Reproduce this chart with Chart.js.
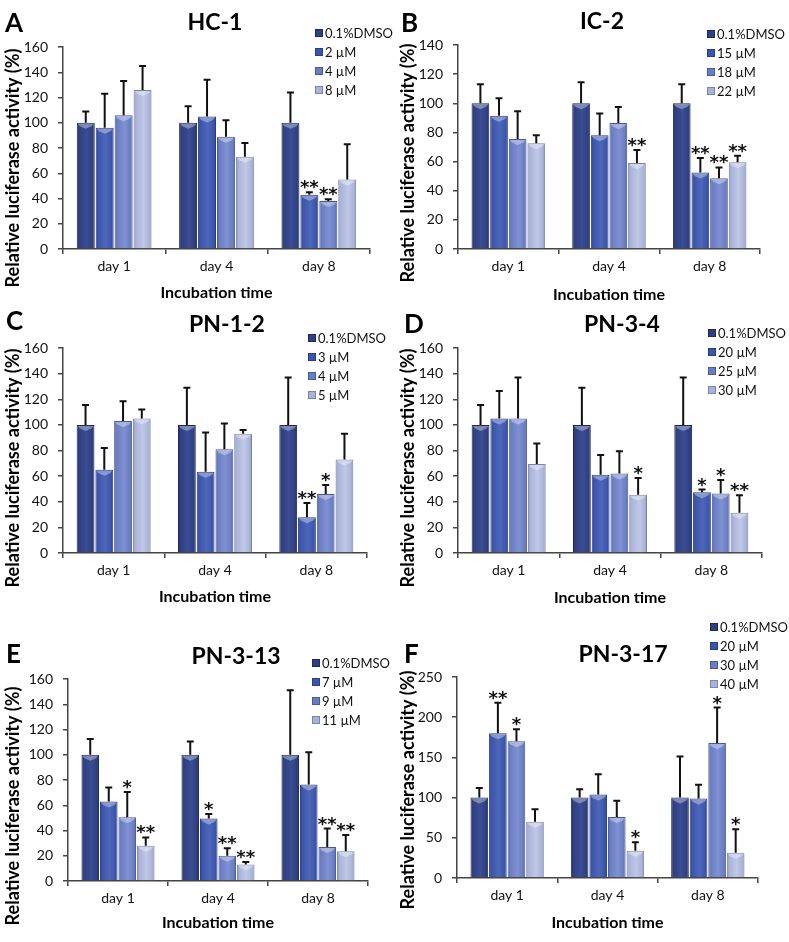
<!DOCTYPE html>
<html>
<head>
<meta charset="utf-8">
<script src="https://cdn.jsdelivr.net/npm/chart.js@4.4.1/dist/chart.umd.min.js"></script>
<style>
  html, body { margin: 0; padding: 0; background: #fff; }
  #wrap { position: relative; width: 789px; height: 942px; overflow: hidden; }
  #wrap canvas { position: absolute; }
</style>
</head>
<body>
<div id="wrap"></div>
<script>
// ---- data (mean %, upper error, significance marks) ----
const days = ['day 1', 'day 4', 'day 8'];

const hc1Doses = ['0.1%DMSO', '2 µM', '4 µM', '8 µM'];
const hc1Mean  = [[100, 100, 100], [96, 105, 43], [106, 89, 38], [126, 73, 55]];
const hc1Err   = [[9, 13, 24], [27, 29, 2], [27, 13, 1.5], [19, 11, 28]];
const hc1Stars = [['', '', ''], ['', '', '**'], ['', '', '**'], ['', '', '']];

const ic2Doses = ['0.1%DMSO', '15 µM', '18 µM', '22 µM'];
const ic2Mean  = [[100, 100, 100], [91.5, 78, 52.5], [75.5, 86.5, 48.5], [72.5, 59, 59.5]];
const ic2Err   = [[13, 14.5, 13], [12, 15, 10], [19, 11, 7.5], [5.5, 9, 4.5]];
const ic2Stars = [['', '', ''], ['', '', '**'], ['', '', '**'], ['', '**', '**']];

const pn12Doses = ['0.1%DMSO', '3 µM', '4 µM', '5 µM'];
const pn12Mean  = [[100, 100, 100], [65, 63.5, 28], [103, 81, 46], [105, 93, 73]];
const pn12Err   = [[15.5, 29, 37], [17, 30.5, 11], [15.5, 20, 7], [7, 3, 20]];
const pn12Stars = [['', '', ''], ['', '', '**'], ['', '', '*'], ['', '', '']];

const pn34Doses = ['0.1%DMSO', '20 µM', '25 µM', '30 µM'];
const pn34Mean  = [[100, 100, 100], [105, 61, 47.5], [105, 62, 46.5], [69.5, 45.5, 31.5]];
const pn34Err   = [[15.5, 29, 37], [21.5, 15.5, 2], [32, 17.5, 10.5], [16, 13, 13.5]];
const pn34Stars = [['', '', ''], ['', '', '*'], ['', '', '*'], ['', '*', '**']];

const pn313Doses = ['0.1%DMSO', '7 µM', '9 µM', '11 µM'];
const pn313Mean  = [[100, 100, 100], [63, 49.5, 76.5], [50.5, 20, 27], [28, 13, 23.5]];
const pn313Err   = [[12.5, 10.5, 51], [11, 3.5, 25.5], [20, 6, 14.5], [6.5, 2, 13]];
const pn313Stars = [['', '', ''], ['', '*', ''], ['*', '**', '**'], ['**', '**', '**']];

const pn317Doses = ['0.1%DMSO', '20 µM', '30 µM', '40 µM'];
const pn317Mean  = [[100, 100, 100], [180, 104, 99], [170, 76, 168], [70, 34, 31.5]];
const pn317Err   = [[12, 10.5, 51], [38, 25, 17], [15, 20, 44], [15.5, 10.5, 29]];
const pn317Stars = [['', '', ''], ['**', '', ''], ['*', '', '*'], ['', '*', '*']];

// ---- look ----
const FONT = 'Lato, "DejaVu Sans", sans-serif';
const barColors   = ['#2f3f80', '#3c55aa', '#6a7dc2', '#a9b3d9'];
const lightColors = ['#3b4d94', '#4d67bb', '#8091d2', '#c0c8e6'];
const edgeColors  = ['#1e2a5c', '#283d85', '#4a5a99', '#7a85ae'];
const axisColor = '#444';
const catPct = 0.74;
Chart.defaults.font.family = FONT;

const panels = [
  { letter: 'A', title: 'HC-1', doses: hc1Doses, means: hc1Mean, errs: hc1Err, stars: hc1Stars,
    yMax: 160, yStep: 20, x: 0, y: 0, w: 394, h: 310,
    area: { l: 63, r: 370, t: 47, b: 249 }, letterX: 5, letterY: 32, titleX: 215, titleY: 23,
    legX: 315, legY: 33, yTitleY: 168, xTitleY: 293 },
  { letter: 'B', title: 'IC-2', doses: ic2Doses, means: ic2Mean, errs: ic2Err, stars: ic2Stars,
    yMax: 140, yStep: 20, x: 395, y: 0, w: 394, h: 310,
    area: { l: 63, r: 365, t: 45, b: 249 }, letterX: 6, letterY: 32, titleX: 207, titleY: 22,
    legX: 312, legY: 34, yTitleY: 163, xTitleY: 295 },
  { letter: 'C', title: 'PN-1-2', doses: pn12Doses, means: pn12Mean, errs: pn12Err, stars: pn12Stars,
    yMax: 160, yStep: 20, x: 0, y: 300, w: 394, h: 315,
    area: { l: 63, r: 367, t: 48, b: 253 }, letterX: 6, letterY: 30, titleX: 227, titleY: 25,
    legX: 308, legY: 38, yTitleY: 168, xTitleY: 297 },
  { letter: 'D', title: 'PN-3-4', doses: pn34Doses, means: pn34Mean, errs: pn34Err, stars: pn34Stars,
    yMax: 160, yStep: 20, x: 395, y: 300, w: 394, h: 315,
    area: { l: 63, r: 367, t: 48, b: 253 }, letterX: 9, letterY: 33, titleX: 227, titleY: 25,
    legX: 313, legY: 33, yTitleY: 168, xTitleY: 298 },
  { letter: 'E', title: 'PN-3-13', doses: pn313Doses, means: pn313Mean, errs: pn313Err, stars: pn313Stars,
    yMax: 160, yStep: 20, x: 0, y: 610, w: 394, h: 332,
    area: { l: 68, r: 368, t: 69, b: 271 }, letterX: 6, letterY: 53, titleX: 236, titleY: 47,
    legX: 312, legY: 53, yTitleY: 196, xTitleY: 313 },
  { letter: 'F', title: 'PN-3-17', doses: pn317Doses, means: pn317Mean, errs: pn317Err, stars: pn317Stars,
    yMax: 250, yStep: 50, x: 395, y: 610, w: 394, h: 332,
    area: { l: 62, r: 363, t: 67, b: 268 }, letterX: 9, letterY: 53, titleX: 228, titleY: 45,
    legX: 315, legY: 17, yTitleY: 180, xTitleY: 313 }
];

// horizontal shading across each bar, placed from the x scale
function barFill(di) {
  return ctx => {
    const chart = ctx.chart;
    const xs = chart.scales.x;
    if (!chart.chartArea || !xs || ctx.type !== 'data') return barColors[di];
    const slot = (xs.width / days.length) * catPct / 4;
    const left = xs.getPixelForValue(ctx.dataIndex) - 2 * slot + di * slot;
    const g = chart.ctx.createLinearGradient(left, 0, left + slot, 0);
    g.addColorStop(0, edgeColors[di]);
    g.addColorStop(0.14, barColors[di]);
    g.addColorStop(0.55, lightColors[di]);
    g.addColorStop(0.86, barColors[di]);
    g.addColorStop(1, edgeColors[di]);
    return g;
  };
}

// error bars, stars, panel letter, title, legend, y title
function decor(p) {
  return {
    id: 'decor',
    afterDatasetsDraw(chart) {
      const ctx = chart.ctx;
      const ys = chart.scales.y;
      ctx.save();
      // light bevel at the top of each bar
      p.means.forEach((series, di) => {
        chart.getDatasetMeta(di).data.forEach(bar => {
          const hw = bar.width / 2 - 1;
          ctx.beginPath();
          ctx.moveTo(bar.x - hw, bar.y + 1);
          ctx.lineTo(bar.x + hw, bar.y + 1);
          ctx.lineTo(bar.x + hw - 2, bar.y + 3.5);
          ctx.lineTo(bar.x, bar.y + 6);
          ctx.lineTo(bar.x - hw + 2, bar.y + 3.5);
          ctx.closePath();
          ctx.fillStyle = 'rgba(255,255,255,0.35)';
          ctx.fill();
        });
      });

      ctx.strokeStyle = '#111';
      ctx.fillStyle = '#111';
      ctx.lineWidth = 2;
      ctx.font = 'bold 18px "DejaVu Sans"';
      ctx.textAlign = 'center';
      const m = ctx.measureText('*');
      p.means.forEach((series, di) => {
        const meta = chart.getDatasetMeta(di);
        meta.data.forEach((bar, i) => {
          const capY = ys.getPixelForValue(series[i] + p.errs[di][i]);
          ctx.beginPath();
          ctx.moveTo(bar.x, bar.y);
          ctx.lineTo(bar.x, capY);
          ctx.moveTo(bar.x - 3.5, capY);
          ctx.lineTo(bar.x + 3.5, capY);
          ctx.stroke();
          const s = p.stars[di][i];
          if (s) ctx.fillText(s, bar.x, capY - 3 - m.actualBoundingBoxDescent);
        });
      });
      ctx.restore();
    },
    afterDraw(chart) {
      const ctx = chart.ctx;
      ctx.save();
      ctx.fillStyle = '#000';
      ctx.textBaseline = 'alphabetic';
      ctx.textAlign = 'left';
      ctx.font = 'bold 26px ' + FONT;
      ctx.fillText(p.letter, p.letterX, p.letterY);

      ctx.textAlign = 'center';
      ctx.textBaseline = 'middle';
      ctx.font = 'bold 23px ' + FONT;
      ctx.fillText(p.title, p.titleX, p.titleY);

      ctx.textAlign = 'left';
      ctx.font = '13px ' + FONT;
      chart.data.datasets.forEach((ds, di) => {
        const ry = p.legY + di * 19;
        ctx.fillStyle = barColors[di];
        ctx.fillRect(p.legX, ry - 4, 8, 8);
        ctx.strokeStyle = edgeColors[di];
        ctx.lineWidth = 1;
        ctx.strokeRect(p.legX + 0.5, ry - 3.5, 7, 7);
        ctx.fillStyle = '#111';
        ctx.fillText(ds.label, p.legX + 10, ry + 1);
      });

      ctx.translate(13, p.yTitleY);
      ctx.rotate(-Math.PI / 2);
      ctx.textAlign = 'center';
      ctx.fillStyle = '#000';
      ctx.font = 'bold 18px ' + FONT;
      ctx.fillText('Relative luciferase activity (%)', 0, 0);
      ctx.restore();
    }
  };
}

const wrap = document.getElementById('wrap');
panels.forEach(p => {
  const canvas = document.createElement('canvas');
  canvas.width = p.w;
  canvas.height = p.h;
  canvas.style.left = p.x + 'px';
  canvas.style.top = p.y + 'px';
  wrap.appendChild(canvas);

  const datasets = p.doses.map((d, di) => ({
    label: d,
    data: p.means[di],
    backgroundColor: barFill(di),
    borderColor: edgeColors[di],
    borderWidth: 1,
    categoryPercentage: catPct,
    barPercentage: 0.95
  }));

  new Chart(canvas, {
    type: 'bar',
    data: { labels: days, datasets: datasets },
    options: {
      responsive: false,
      animation: false,
      devicePixelRatio: 1,
      layout: { padding: { top: p.area.t, right: p.w - p.area.r, left: 0, bottom: 0 } },
      plugins: { legend: { display: false }, tooltip: { enabled: false } },
      scales: {
        x: {
          grid: { display: true, drawOnChartArea: false, drawTicks: true, tickLength: 5,
                  color: axisColor, lineWidth: 1.5, offset: true },
          border: { display: true, color: axisColor, width: 1.5 },
          ticks: { font: { size: 14 }, color: '#111', padding: 4 },
          title: { display: true, text: 'Incubation time', color: '#000',
                   font: { size: 16, weight: 'bold' },
                   padding: { top: 0, bottom: p.h - p.xTitleY - 9.6 } },
          afterFit: s => { s.height = p.h - p.area.b; }
        },
        y: {
          min: 0,
          max: p.yMax,
          grid: { display: true, drawOnChartArea: false, drawTicks: true, tickLength: 5,
                  color: axisColor, lineWidth: 1.5 },
          border: { display: true, color: axisColor, width: 1.5 },
          ticks: { stepSize: p.yStep, font: { size: 14 }, color: '#111', padding: 10 },
          afterFit: s => { s.width = p.area.l; }
        }
      }
    },
    plugins: [decor(p)]
  });
});
</script>
</body>
</html>
